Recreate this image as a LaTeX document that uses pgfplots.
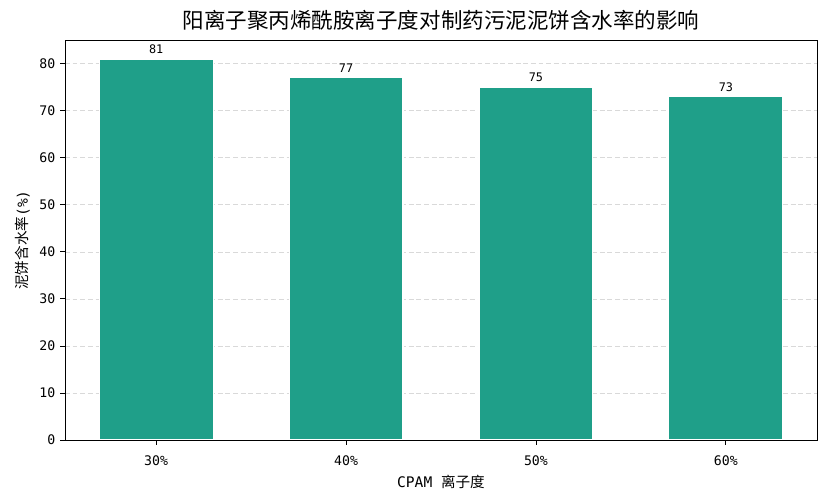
\documentclass[border=0pt]{standalone}
\usepackage{pgfplots}
\pgfplotsset{compat=1.18}
\usepackage{fontspec}
\setmainfont{Noto Sans CJK SC}
\setmonofont{DejaVu Sans Mono}
\definecolor{barteal}{HTML}{1F9F89}
\definecolor{gridgray}{HTML}{D9D9D9}

\begin{document}
\begin{tikzpicture}[x=1pt,y=1pt]
  \path[use as bounding box] (-46.8,-46.08) rectangle (549.36,316.8);
  \begin{axis}[
      at={(0,0)}, anchor=south west,
      width=541.44pt, height=288pt,
      scale only axis,
      ybar,
      bar width=0.6,
      xmin=-0.48, xmax=3.48,
      ymin=0, ymax=85.05,
      xtick=data,
      xticklabels={30\%,40\%,50\%,60\%},
      ytick={0,10,...,80},
      tick align=outside,
      xtick pos=bottom, ytick pos=left,
      major tick length=3.5pt,
      tick style={black, line width=0.6pt},
      axis line style={line width=0.6pt},
      ymajorgrids,
      grid style={gridgray, dash pattern=on 3.5pt off 2pt, line width=0.5pt},
      /pgf/number format/assume math mode=true,
      ticklabel style={font=\ttfamily\fontsize{9.5}{12}\selectfont},
      xticklabel style={yshift=-4pt},
      xlabel={{\ttfamily CPAM\ }离子度},
      ylabel={泥饼含水率{\ttfamily (\%)}},
      label style={font=\fontsize{10.5}{12}\selectfont},
      title={阳离子聚丙烯酰胺离子度对制药污泥泥饼含水率的影响},
      title style={font=\fontsize{15.5}{17}\selectfont, yshift=-3pt},
      nodes near coords,
      every node near coord/.append style={font=\ttfamily\fontsize{8.5}{10}\selectfont, black},
    ]
    \addplot[fill=barteal, draw=white, line width=0.8pt] coordinates {(0,81) (1,77) (2,75) (3,73)};
  \end{axis}
\end{tikzpicture}
\end{document}
